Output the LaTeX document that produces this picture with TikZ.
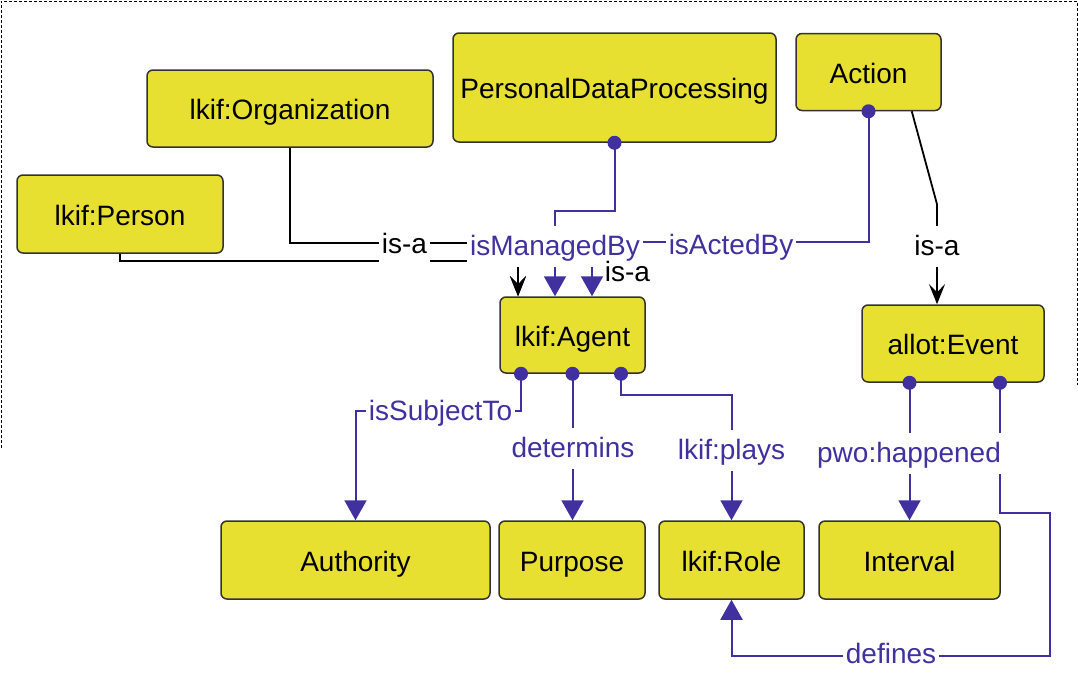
\documentclass[tikz,border=0pt]{standalone}
\usepackage{fontspec}
\setmainfont{Liberation Sans}
\usetikzlibrary{arrows.meta, calc, positioning}
\definecolor{classyellow}{RGB}{232,224,48}
\definecolor{propblue}{RGB}{64,48,160}
\definecolor{boxline}{RGB}{50,50,50}
\tikzset{
  % ontology classes
  classnode/.style={
    rectangle, rounded corners=6pt,
    fill=classyellow, draw=boxline, line width=1.5pt,
    font=\fontsize{28}{32}\selectfont,
    text height=24pt, text depth=2pt,
    inner sep=0pt, align=center
  },
  % object properties
  proparrow/.style={
    draw=propblue, line width=2pt,
    -{Triangle[length=20pt,width=22pt]}
  },
  % subclass links
  isaarrow/.style={
    draw=black, line width=1.8pt,
    -{Stealth[length=20pt,width=16pt,inset=8pt]}
  },
  proplabel/.style={
    fill=white, text=propblue, anchor=base,
    font=\fontsize{28}{32}\selectfont,
    inner xsep=3pt, inner ysep=5pt,
    text height=24pt, text depth=7pt
  },
  isalabel/.style={
    proplabel, text=black
  }
}

\begin{document}
\begin{tikzpicture}[x=1pt, y=-1pt]
  \useasboundingbox (0,0) rectangle (1078,686);

  % frame
  \draw[dash pattern=on 3pt off 2pt, line width=1pt]
    (1,448) -- (1,1) -- (1077,1) -- (1077,385);

  % --- top classes ---
  \node[classnode, minimum width=286pt, minimum height=77pt] (org) at (290,108.5) {lkif:Organization};
  \node[classnode, minimum width=206pt, minimum height=78pt] (person) at (120,214) {lkif:Person};
  \node[classnode, minimum width=323pt, minimum height=109pt] (pdp) at (614.5,87.5) {PersonalDataProcessing};
  \node[classnode, minimum width=145pt, minimum height=77pt] (action) at (868.5,72) {Action};

  % --- middle ---
  \node[classnode, minimum width=145pt, minimum height=76pt] (agent) at (572.5,335) {lkif:Agent};
  \node[classnode, minimum width=182pt, minimum height=77pt] (event) at (953,343.5) {allot:Event};

  % --- bottom row ---
  \node[classnode, minimum width=269pt, minimum height=78pt] (authority) at (355.5,560) {Authority};
  \node[classnode, minimum width=146pt, minimum height=78pt, right=7.5pt of authority] (purpose) {Purpose};
  \node[classnode, minimum width=145pt, minimum height=78pt, right=12.5pt of purpose] (role) {lkif:Role};
  \node[classnode, minimum width=181pt, minimum height=78pt, right=13.5pt of role] (interval) {Interval};

  % property start points
  \coordinate (agentL) at ($(agent.south)+(-51.5,0)$);
  \coordinate (agentR) at ($(agent.south)+(48.5,0)$);
  \coordinate (eventL) at (event.south -| interval.north);
  \coordinate (eventR) at ($(event.south)+(47,0)$);

  % is-a links
  \draw[isaarrow] (org.south) -- ++(0,95) -| ($(agent.north)+(-54.5,0)$);
  \draw[isaarrow] (person.south) -- ++(0,7) -| ($(agent.north)+(-54.5,0)$);
  \draw[isaarrow] ($(action.south east)+(-30,0)$) -- ($(event.north)+(-16,-100)$)
    -- ($(event.north)+(-16,0)$);

  % properties
  \draw[proparrow] (pdp.south) -- ++(0,68) -| ($(agent.north)+(-17.5,0)$);
  \draw[proparrow] (action.south) -- ++(0,131) -| ($(agent.north)+(19.5,0)$);
  \draw[proparrow] (agentL) -- ++(0,37) -| (authority.north);
  \draw[proparrow] (agent.south) -- (agent.south |- purpose.north);
  \draw[proparrow] (agentR) -- ++(0,21) -| (role.north);
  \draw[proparrow] (eventL) -- (interval.north);
  \draw[proparrow] (eventR) -- ++(0,130) -| ($(role.south)+(318.5,56)$) -| (role.south);

  \foreach \p in {pdp.south, action.south, agentL, agent.south, agentR, eventL, eventR}
    \fill[propblue] (\p) circle (7pt);

  % labels
  \node[isalabel] (isa1) at (404.5,253) {is-a};
  \node[proplabel] (managed) at (555,255) {isManagedBy};
  \node[proplabel] (acted) at (731,254) {isActedBy};
  \node[isalabel, fill=none] (isa2) at (627.5,281) {is-a};
  \node[isalabel] (isa3) at (937,255) {is-a};
  \node[proplabel] (subject) at (440.5,420) {isSubjectTo};
  \node[proplabel] (determ) at (573,457) {determins};
  \node[proplabel] (plays) at (731.5,459) {lkif:plays};
  \node[proplabel] (happened) at (909,462) {pwo:happened};
  \node[proplabel] (defines) at (891,663) {defines};

\end{tikzpicture}
\end{document}
